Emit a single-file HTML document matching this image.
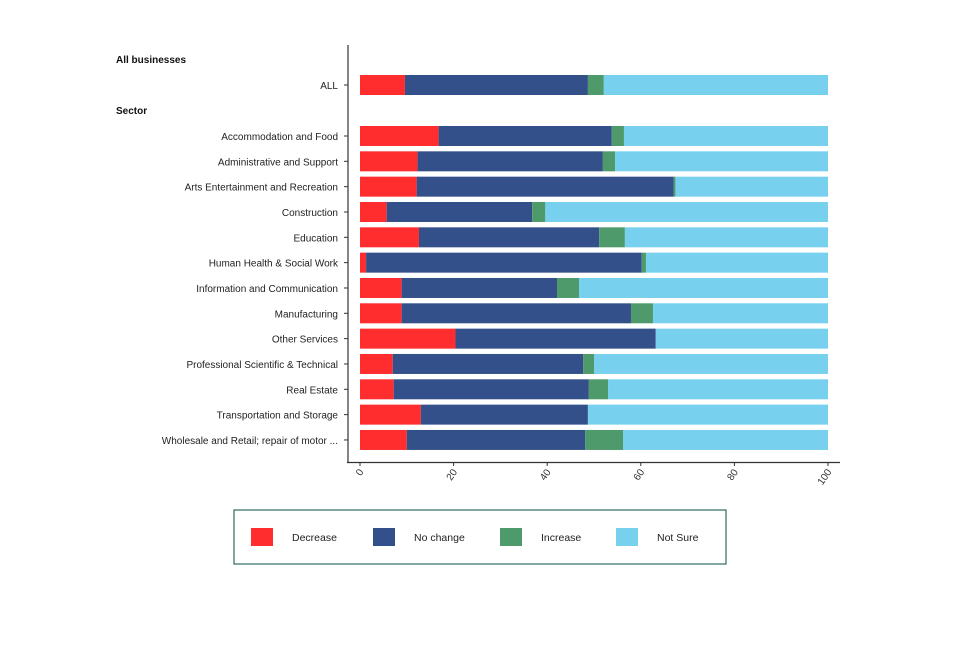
<!DOCTYPE html>
<html><head><meta charset="utf-8"><style>
body{margin:0;background:#fff;font-family:"Liberation Sans",sans-serif}
svg text{font-family:"Liberation Sans",sans-serif}
</style></head><body>
<svg width="960" height="640" viewBox="0 0 960 640">
<g id="g"></g>
</svg>
<script>
const categories=["ALL","Accommodation and Food","Administrative and Support","Arts Entertainment and Recreation","Construction","Education","Human Health & Social Work","Information and Communication","Manufacturing","Other Services","Professional Scientific & Technical","Real Estate","Transportation and Storage","Wholesale and Retail; repair of motor ..."];
const decrease=[9.6,16.8,12.3,12.1,5.7,12.6,1.3,8.9,8.9,20.4,7.0,7.2,13.0,10.0];
const noChange=[39.1,37.0,39.6,54.9,31.1,38.5,58.9,33.2,49.0,42.8,40.7,41.7,35.7,38.1];
const increase=[3.4,2.6,2.6,0.4,2.8,5.5,0.9,4.7,4.7,0,2.3,4.1,0,8.1];
const seriesNames=["Decrease","No change","Increase","Not Sure"];
const colors=["#ff2d2d","#34508a","#4f9a6a","#76d0ee"];
const xTicks=[0,20,40,60,80,100];
const NS="http://www.w3.org/2000/svg";
const g=document.getElementById('g');
const x=v=>360+v*4.68;
const yc=i=>i===0?85:136+(i-1)*25.33;
function el(t,a,p){const e=document.createElementNS(NS,t);for(const k in a)e.setAttribute(k,a[k]);(p||g).appendChild(e);return e;}
let t=el('text',{x:116,y:63,'font-size':10,'font-weight':'bold',fill:'#111'});t.textContent="All businesses";


t=el('text',{x:116,y:114,'font-size':10,'font-weight':'bold',fill:'#111'});t.textContent="Sector";


categories.forEach((c,i)=>{
  const y=yc(i);
  const vals=[decrease[i],noChange[i],increase[i]];
  vals.push(100-vals[0]-vals[1]-vals[2]);
  let acc=0;
  vals.forEach((v,k)=>{
    const r=el('rect',{x:x(acc),y:y-10,width:Math.max(0,x(acc+v)-x(acc)),height:20,fill:colors[k]});
    
    
    acc+=v;
  });
  const lb=el('text',{x:338,y:y+4,'font-size':10,'text-anchor':'end',fill:'#222'});lb.textContent=c;
  
  
  el('line',{x1:344,x2:348,y1:y,y2:y,stroke:'#333'});
});
el('line',{x1:348,x2:348,y1:45,y2:463,stroke:'#333','stroke-width':1.2});
el('line',{x1:347,x2:840,y1:462.5,y2:462.5,stroke:'#333','stroke-width':1.2});
xTicks.forEach(v=>{
  el('line',{x1:x(v),x2:x(v),y1:462,y2:466,stroke:'#333'});
  const tt=el('text',{x:x(v)+4,y:472,'font-size':10,'text-anchor':'end',fill:'#333',transform:`rotate(-55 ${x(v)+4} 472)`});tt.textContent=v;
  
  
});
const lg=el('rect',{x:234,y:510,width:492,height:54,fill:'#fff',stroke:'#2e6b63','stroke-width':1.2});


const lx=[251,373,500,616];
seriesNames.forEach((n,k)=>{
  const r=el('rect',{x:lx[k],y:528,width:22,height:18,fill:colors[k]});
  
  
  const tx=el('text',{x:lx[k]+41,y:541,'font-size':10.5,fill:'#222'});tx.textContent=n;
  
  
});
</script>
</body></html>
